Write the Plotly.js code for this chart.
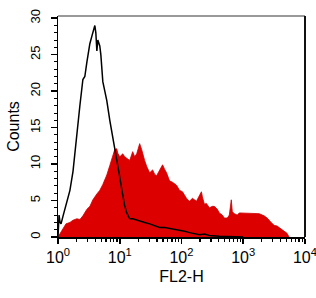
<!DOCTYPE html>
<html>
<head>
<meta charset="utf-8">
<script src="https://cdn.plot.ly/plotly-3.0.1.min.js"></script>
<style>html,body{margin:0;padding:0;background:#fff;}#chart{width:316px;height:298px;}</style>
</head>
<body>
<div id="chart"></div>
<script>
// Stained sample (red, filled)
const stainedFL2 = [1, 1.077, 1.204, 1.346, 1.561, 1.746, 2.025, 2.263, 2.53, 2.936, 3.283, 3.669, 4.256, 4.758, 5.319, 6.171, 6.898, 7.712, 8.307, 8.947, 9.284, 10, 11.18, 12.04, 12.97, 14.5, 16.21, 17.46, 18.81, 21.02, 22.63, 23.5, 25.3, 27.26, 30.47, 34.07, 36.69, 39.52, 44.19, 49.39, 53.19, 57.3, 64.05, 71.6, 83.07, 92.84, 103.8, 120.4, 134.6, 150.4, 174.6, 195.2, 210.2, 218.2, 234.9, 253.1, 282.9, 316.2, 340.6, 380.8, 410.2, 458.5, 493.8, 552, 594.6, 640.5, 664.8, 716, 800.4, 862, 1038, 1250, 1504, 1812, 2182, 2439, 2829, 3162, 3535, 3807, 4256, 4584, 5125, 5520];
const stainedCounts = [0, 0.5, 1.2, 1.8, 2.0, 2.3, 2.5, 2.4, 2.9, 3.8, 4.2, 5.1, 5.9, 6.4, 7.2, 8.5, 9.8, 11.0, 12.0, 12.1, 11.5, 11.0, 11.4, 11.0, 10.8, 10.5, 11.7, 11.0, 11.4, 12.8, 12.0, 11.4, 10.5, 9.7, 8.8, 9.2, 8.6, 8.4, 9.2, 9.9, 9.3, 8.8, 7.7, 7.5, 7.1, 6.4, 6.2, 5.3, 4.9, 5.3, 4.9, 5.6, 6.2, 5.5, 4.5, 4.6, 4.0, 4.2, 4.2, 3.8, 3.3, 3.0, 2.6, 2.6, 3.0, 5.1, 3.5, 3.2, 3.0, 3.3, 3.3, 3.3, 3.3, 3.2, 2.9, 2.6, 2.0, 1.6, 1.5, 1.3, 1.1, 0.9, 0.5, 0];

// Control (black, open)
const controlFL2 = [1, 1.04, 1.08, 1.12, 1.2, 1.35, 1.56, 1.75, 1.95, 2.1, 2.26, 2.53, 2.72, 2.94, 3.28, 3.53, 3.81, 3.95, 4.1, 4.26, 4.42, 4.75, 4.94, 5.32, 5.73, 6.17, 6.9, 7.43, 7.71, 8.3, 8.95, 9.29, 10, 10.8, 11.2, 12.0, 13.0, 14.5, 16.2, 18.8, 21.0, 25.3, 30.5, 36.7, 44.2, 53.2, 64.0, 77.1, 92.9, 112, 135, 162, 195, 235, 283, 410, 595, 1000];
const controlCounts = [0, 3.0, 2.0, 1.8, 2.8, 4.5, 6.4, 9, 13, 16, 18, 21.6, 22, 24, 26.5, 27.5, 28.5, 29, 28, 25.5, 27, 26.2, 25, 21.3, 20, 18.7, 16, 14.5, 13.8, 12.5, 10.8, 10, 8.2, 6.5, 5.5, 4.3, 3.3, 2.5, 2.5, 2.3, 2.2, 2.0, 1.8, 1.5, 1.3, 1.3, 1.2, 1.0, 0.9, 0.8, 0.6, 0.5, 0.3, 0.4, 0.2, 0.1, 0.05, 0];

const xTickVals = [1, 10, 100, 1000, 10000];
const xTickText = ['10<sup>0</sup>', '10<sup>1</sup>', '10<sup>2</sup>', '10<sup>3</sup>', '10<sup>4</sup>'];
const yTickVals = [0, 5, 10, 15, 20, 25, 30];

const traces = [
  {x: stainedFL2, y: stainedCounts, type: 'scatter', mode: 'lines', fill: 'tozeroy',
   fillcolor: '#dd0000', line: {color: '#cc0000', width: 0.8}, hoverinfo: 'skip'},
  {x: controlFL2, y: controlCounts, type: 'scatter', mode: 'lines',
   line: {color: '#000000', width: 1.5}, hoverinfo: 'skip'}
];

const layout = {
  width: 316, height: 298,
  margin: {l: 58, r: 11, t: 16, b: 61},
  paper_bgcolor: '#ffffff', plot_bgcolor: '#ffffff',
  showlegend: false,
  font: {family: 'Liberation Sans, Arial, sans-serif', color: '#000'},
  xaxis: {
    type: 'log', range: [0, 4.0002], showgrid: false, zeroline: false,
    showline: true, linecolor: '#000', linewidth: 1.5,
    tickmode: 'array', tickvals: xTickVals, ticktext: xTickText,
    ticklabeloverflow: 'allow',
    ticks: 'outside', ticklen: 5, tickwidth: 1.5, tickcolor: '#000',
    tickfont: {size: 16, color: '#000'},
    minor: {ticks: 'outside', ticklen: 3, tickwidth: 1.2, tickcolor: '#000', dtick: 'D1', showgrid: false},
    title: {text: 'FL2-H', font: {size: 16, color: '#000'}, standoff: 6}
  },
  yaxis: {
    range: [0, 30.3], showgrid: false, zeroline: false,
    showline: true, linecolor: '#000', linewidth: 1.5,
    tickmode: 'array', tickvals: yTickVals, tickangle: -90,
    ticklabelstandoff: 5,
    ticks: 'outside', ticklen: 6, tickwidth: 1.5, tickcolor: '#000',
    tickfont: {size: 13, color: '#000'},
    minor: {ticks: 'outside', ticklen: 3, tickwidth: 1, tickcolor: '#000', dtick: 1, showgrid: false},
    title: {text: 'Counts', font: {size: 16, color: '#000'}, standoff: 4}
  },
  shapes: [
    {type: 'line', xref: 'paper', yref: 'paper', x0: 0, x1: 1, y0: 1, y1: 1, line: {color: '#777', width: 1.5}},
    {type: 'line', xref: 'paper', yref: 'paper', x0: 1, x1: 1, y0: 0, y1: 1, line: {color: '#111', width: 2}}
  ]
};

Plotly.newPlot('chart', traces, layout, {displayModeBar: false, staticPlot: true});
</script>
</body>
</html>
